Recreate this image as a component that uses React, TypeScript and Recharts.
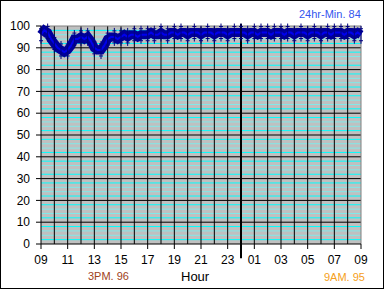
import {
  LineChart,
  Line,
  XAxis,
  YAxis,
  CartesianGrid,
  ReferenceLine,
} from "recharts";

// humidity readings every 15 minutes, 09:00 -> 09:00 next day
const rh = [
  96, 98, 97, 94, 92, 90, 89, 88, 89, 91,
  94, 94, 95, 94, 95, 93, 90, 89, 89, 91,
  94, 95, 95, 94, 95, 96, 95, 96, 96, 95,
  96, 96, 96, 97, 96, 96, 97, 96, 96, 97,
  97, 96, 97, 97, 96, 97, 97, 97, 96, 97,
  97, 97, 96, 97, 97, 97, 96, 97, 97, 97,
  97, 97, 96, 97, 97, 96, 97, 97, 97, 96,
  97, 97, 97, 96, 97, 97, 96, 97, 97, 97,
  96, 97, 97, 97, 96, 97, 97, 96, 97, 97,
  97, 96, 97, 97, 96, 97, 96,
];

const hourLabels = ["09", "11", "13", "15", "17", "19", "21", "23", "01", "03", "05", "07", "09"];
const xTicks = [0, 2, 4, 6, 8, 10, 12, 14, 16, 18, 20, 22, 24];
const hourLines = [1, 2, 3, 4, 5, 6, 7, 8, 9, 10, 11, 12, 13, 14, 15, 16, 17, 18, 19, 20, 21, 22, 23];
const yTicks = [0, 10, 20, 30, 40, 50, 60, 70, 80, 90, 100];
const majorLines = [10, 20, 30, 40, 50, 60, 70, 80, 90];
const brightMinor = [2, 8, 12, 18, 22, 28, 32, 38, 42, 48, 52, 58, 62, 68, 72, 78, 82, 88, 92, 98];
const paleMinor = [4, 6, 14, 16, 24, 26, 34, 36, 44, 46, 54, 56, 64, 66, 74, 76, 84, 86, 94, 96];
const midnight = 15;

const data = rh.map((v, i) => ({ t: i * 0.25, rh: v }));

const font = "'Liberation Sans', Arial, sans-serif";

const Whisker = (props: any) => {
  const { cx, cy, index } = props;
  if (index % 2 !== 0 || cx == null || cy == null) return <g key={`w${index}`} />;
  return (
    <g key={`w${index}`} stroke="#000080" strokeWidth={1}>
      <line x1={cx} x2={cx} y1={cy - 9} y2={cy + 9} />
      <line x1={cx - 2} x2={cx + 2} y1={cy - 6} y2={cy - 6} />
      <line x1={cx - 2} x2={cx + 2} y1={cy + 6} y2={cy + 6} />
    </g>
  );
};

const label = (text: string, color: string, size: number, left: number, top: number) => (
  <div
    style={{
      position: "absolute",
      left,
      top,
      color,
      fontSize: size,
      lineHeight: `${size}px`,
      fontFamily: font,
      whiteSpace: "nowrap",
    }}
  >
    {text}
  </div>
);

export default function App() {
  return (
    <div
      style={{
        position: "absolute",
        left: 0,
        top: 0,
        width: 384,
        height: 289,
        border: "1px solid #000",
        boxSizing: "border-box",
        background: "#fff",
      }}
    >
      <div style={{ position: "absolute", left: -1, top: -1 }}>
        <LineChart
          width={384}
          height={289}
          data={data}
          margin={{ top: 26, right: 23, left: 0, bottom: 0 }}
        >
          <CartesianGrid
            fill="#c0c0c0"
            stroke="#00ffff"
            horizontalValues={brightMinor}
            vertical={false}
          />
          <CartesianGrid stroke="#80eaea" horizontalValues={paleMinor} vertical={false} />
          <CartesianGrid stroke="#000" horizontalValues={majorLines} verticalValues={hourLines} />
          <CartesianGrid stroke="#808080" horizontalValues={[100]} verticalValues={[24]} />
          <XAxis
            dataKey="t"
            type="number"
            domain={[0, 24]}
            ticks={xTicks}
            tickFormatter={(v: number) => hourLabels[xTicks.indexOf(v)]}
            height={45}
            stroke="#000"
            tickSize={5}
            tickMargin={6}
            tick={{ fill: "#000", fontSize: 12, fontFamily: font }}
            interval={0}
          />
          <YAxis
            domain={[0, 100]}
            ticks={yTicks}
            width={41}
            stroke="#000"
            tickSize={5}
            tickMargin={6}
            tick={{ fill: "#000", fontSize: 12, fontFamily: font }}
            interval={0}
          />
          <Line
            dataKey="rh"
            stroke="#000099"
            strokeWidth={9}
            dot={false}
            isAnimationActive={false}
          />
          <Line
            dataKey="rh"
            stroke="#0000ee"
            strokeWidth={2}
            dot={Whisker}
            activeDot={false}
            isAnimationActive={false}
          />
          <ReferenceLine
            segment={[
              { x: midnight, y: -6.5 },
              { x: midnight, y: 101 },
            ]}
            stroke="#000"
            strokeWidth={2}
            ifOverflow="visible"
          />
        </LineChart>
      </div>
      {label("24hr-Min. 84", "#3355ee", 11, 298, 8)}
      {label("Hour", "#000", 13, 180, 269)}
      {label("3PM. 96", "#a0421a", 11, 87, 270)}
      {label("9AM. 95", "#f5a020", 11, 323, 271)}
    </div>
  );
}
